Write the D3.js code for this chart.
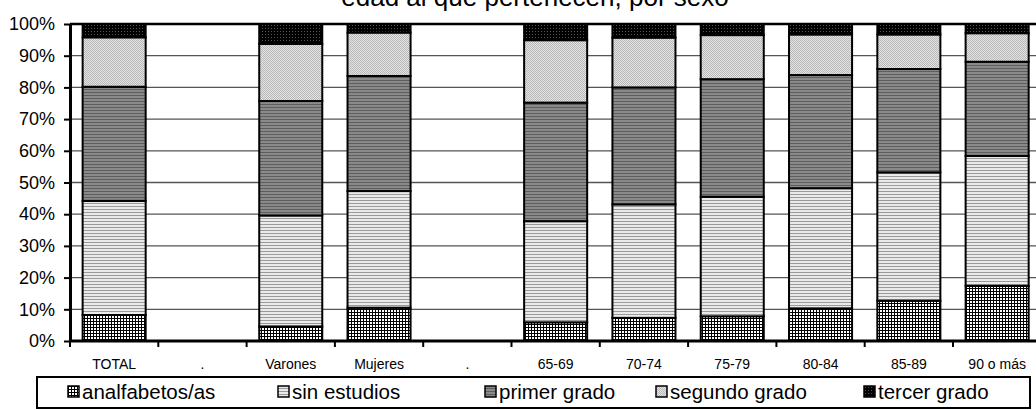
<!DOCTYPE html>
<html><head><meta charset="utf-8">
<script src="https://cdn.jsdelivr.net/npm/d3@7"></script>
<style>body{margin:0;background:#fff}svg{display:block;font-family:"Liberation Sans",Arial,sans-serif}</style>
</head><body>
<svg id="c" width="1036" height="410"></svg>
<script>
const categories = ["TOTAL", ".", "Varones", "Mujeres", " .", "65-69", "70-74", "75-79", "80-84", "85-89", "90 o más"];
const seriesNames = ["analfabetos/as", "sin estudios", "primer grado", "segundo grado", "tercer grado"];
const analfabetos = [8.2, null, 4.6, 10.5, null, 5.9, 7.3, 7.8, 10.3, 12.7, 17.4];
const sinEstudios = [36.0, null, 35.0, 36.8, null, 31.9, 35.8, 37.7, 37.9, 40.5, 41.0];
const primerGrado = [36.0, null, 36.1, 36.3, null, 37.4, 36.9, 37.1, 35.7, 32.6, 29.7];
const segundoGrado = [15.6, null, 18.0, 13.7, null, 19.7, 15.7, 13.9, 12.8, 10.9, 9.0];
const tercerGrado = [4.2, null, 6.3, 2.7, null, 5.1, 4.3, 3.5, 3.3, 3.3, 2.9];
const yTicks = [0, 10, 20, 30, 40, 50, 60, 70, 80, 90, 100];
const titleText = "edad al que pertenecen, por sexo";

(function () {
const svg = d3.select("#c");
const defs = svg.append("defs");
function pat(id, w, h, bg, draw) {
  const p = defs.append("pattern").attr("id", id).attr("patternUnits", "userSpaceOnUse").attr("width", w).attr("height", h);
  p.append("rect").attr("width", w).attr("height", h).attr("fill", bg);
  draw(p);
}
pat("p0", 3, 3, "#000", p => p.append("rect").attr("x", 1).attr("y", 1).attr("width", 2).attr("height", 2).attr("fill", "#fff"));
pat("p1", 3, 3, "#eaeaea", p => p.append("rect").attr("y", 2).attr("width", 3).attr("height", 1).attr("fill", "#9a9a9a"));
pat("p2", 3, 3, "#8a8a8a", p => p.append("rect").attr("y", 2).attr("width", 3).attr("height", 1).attr("fill", "#5e5e5e"));
pat("p3", 2, 2, "#e4e4e4", p => { p.append("rect").attr("width", 1).attr("height", 1).attr("fill", "#b8b8b8"); p.append("rect").attr("x",1).attr("y",1).attr("width", 1).attr("height", 1).attr("fill", "#b8b8b8"); });
pat("p4", 3, 3, "#000", p => p.append("rect").attr("x", 1).attr("y", 1).attr("width", 1).attr("height", 1).attr("fill", "#555"));
const fills = ["url(#p0)", "url(#p1)", "url(#p2)", "url(#p3)", "url(#p4)"];

const mLeft = 70, mTop = 24, mBottom = 341;
const step = 88.3;
const x = d3.scaleBand().domain(categories).range([mLeft, mLeft + step * categories.length]).paddingInner(0.286).paddingOuter(0.143);
const y = d3.scaleLinear().domain([0, 100]).range([mBottom, mTop]);

svg.append("text").attr("x", 535).attr("y", 6).attr("text-anchor", "middle").attr("font-size", 26).text(titleText);

svg.append("g").selectAll("line").data(yTicks.filter(t => t > 0 && t < 100)).join("line")
  .attr("x1", mLeft).attr("x2", 1036).attr("y1", d => y(d)).attr("y2", d => y(d))
  .attr("stroke", "#555").attr("stroke-width", 1.3);
svg.append("line").attr("x1", mLeft).attr("x2", 1036).attr("y1", y(100)).attr("y2", y(100)).attr("stroke", "#000").attr("stroke-width", 2.5);

const rows = categories.map((c, i) => ({cat: c, vals: [analfabetos[i], sinEstudios[i], primerGrado[i], segundoGrado[i], tercerGrado[i]]}));
const stack = d3.stack().keys([0, 1, 2, 3, 4]).value((d, k) => d.vals[k] || 0);
const layers = stack(rows);
svg.append("g").selectAll("g").data(layers).join("g").attr("fill", (d, i) => fills[i])
  .selectAll("rect").data(d => d.filter(s => s.data.vals[0] !== null)).join("rect")
  .attr("x", d => x(d.data.cat)).attr("width", x.bandwidth())
  .attr("y", d => y(d[1])).attr("height", d => y(d[0]) - y(d[1]))
  .attr("stroke", "#000").attr("stroke-width", 2);

const yAxis = d3.axisLeft(y).tickValues(yTicks).tickFormat(d => d + "%").tickSize(6).tickSizeOuter(0);
const ya = svg.append("g").attr("transform", `translate(${mLeft},0)`).call(yAxis);
ya.select(".domain").attr("stroke", "#000").attr("stroke-width", 3);
ya.selectAll(".tick line").attr("stroke", "#000").attr("stroke-width", 2);
ya.selectAll(".tick text").attr("font-size", 18).attr("fill", "#000").attr("font-family", "Liberation Sans, Arial").attr("x", -15);

svg.append("line").attr("x1", mLeft).attr("x2", 1036).attr("y1", mBottom).attr("y2", mBottom).attr("stroke", "#000").attr("stroke-width", 3);
const bounds = d3.range(categories.length + 1).map(i => mLeft + i * x.step());
svg.append("g").selectAll("line").data(bounds).join("line")
  .attr("x1", d => d).attr("x2", d => d).attr("y1", mBottom).attr("y2", mBottom + 6).attr("stroke", "#000").attr("stroke-width", 2);
svg.append("g").selectAll("text").data(categories).join("text")
  .attr("x", d => x(d) + x.bandwidth() / 2).attr("y", 369).attr("text-anchor", "middle")
  .attr("font-size", 14).text(d => d.trim());

svg.append("rect").attr("x", 37).attr("y", 377).attr("width", 993).attr("height", 31).attr("fill", "#fff").attr("stroke", "#000").attr("stroke-width", 2);
const legX = [68, 278, 485, 656, 864];
const lg = svg.append("g").selectAll("g").data(seriesNames).join("g").attr("transform", (d, i) => `translate(${legX[i]},386)`);
lg.append("rect").attr("width", 11).attr("height", 11).attr("fill", (d, i) => fills[i]).attr("stroke", "#000").attr("stroke-width", 1.5);
lg.append("text").attr("x", 14).attr("y", 12.5).attr("font-size", 20.5).text(d => d);
})();
</script>
</body></html>
